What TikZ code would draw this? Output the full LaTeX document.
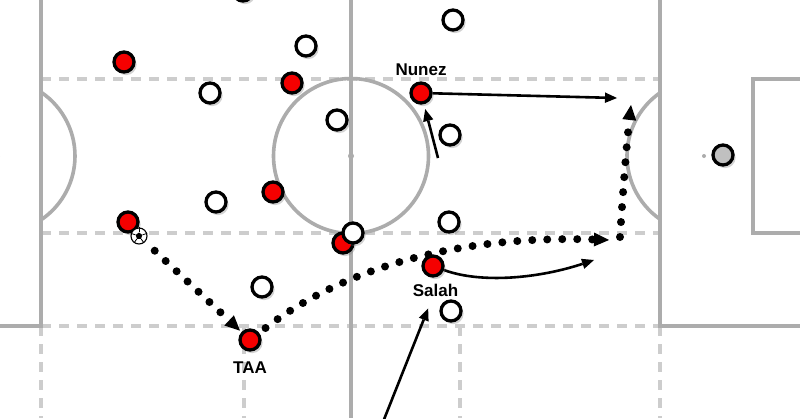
\documentclass[tikz,border=0pt]{standalone}
\usepackage{fontspec}
\setmainfont{Liberation Sans}
\usetikzlibrary{arrows.meta,shadows,shapes.geometric}
\pgfdeclarelayer{pitch}
\pgfdeclarelayer{paths}
\pgfsetlayers{pitch,paths,main}
\definecolor{pitchline}{RGB}{172,172,172}
\definecolor{dashline}{RGB}{205,205,205}
\definecolor{redp}{RGB}{245,0,0}
\definecolor{grayp}{RGB}{192,192,192}
\begin{document}
\begin{tikzpicture}[x=1pt,y=-1pt,
  pline/.style={draw=pitchline,line width=3.6pt},
  dline/.style={draw=dashline,line width=3.2pt,dash pattern=on 10pt off 8pt},
  player/.style={circle,draw=black,line width=3.3pt,minimum size=20pt,inner sep=0pt,
    drop shadow={shadow xshift=2pt,shadow yshift=-2.5pt,shadow scale=1.05,opacity=0.35}},
  redpl/.style={player,fill=redp},
  whitepl/.style={player,fill=white},
  keeperpl/.style={player,fill=grayp},
  lbl/.style={font=\bfseries\fontsize{17}{19}\selectfont,anchor=base,inner sep=0pt},
  run/.style={line width=2.6pt,-{Triangle[length=12pt,width=10.5pt,line width=0pt]}},
  dotline/.style={line width=8pt,line cap=round,dash pattern=on 0pt off 15pt,
    -{Triangle[length=15pt,width=14pt,line width=0pt]}}
]
\useasboundingbox (0,0) rectangle (800,418);
\begin{pgfonlayer}{pitch}
  \fill[white] (0,0) rectangle (800,418);
  % dashed guide lines
  \draw[dline] (41,79) -- (660,79);
  \draw[dline] (41,233) -- (660,233);
  \draw[dline] (41,326) -- (660,326);
  \draw[dline] (41,326) -- (41,418);
  \draw[dline] (244,326) -- (244,418);
  \draw[dline] (460,326) -- (460,418);
  \draw[dline] (660,326) -- (660,418);
  % pitch markings
  \draw[pline] (41,0) -- (41,326) -- (0,326);
  \draw[pline] (351,0) -- (351,418);
  \draw[pline] (660,0) -- (660,326) -- (800,326);
  \draw[pline] (800,79) -- (753,79) -- (753,233) -- (800,233);
  \draw[pline] (351,156) circle[radius=77.5];
  \fill[pitchline] (351,156) circle[radius=3];
  \draw[pline] (-2,156) ++(-56:77) arc[start angle=-56,end angle=56,radius=77];
  \draw[pline] (704,156) ++(125:77) arc[start angle=125,end angle=235,radius=77];
  \fill[pitchline] (704,156) circle[radius=2];
  \fill[pitchline] (-2,156) circle[radius=2];
\end{pgfonlayer}

% white players
\node[whitepl] (w0) at (243,-9) {};
\node[whitepl] (w1) at (306,46) {};
\node[whitepl] (w2) at (453,20) {};
\node[whitepl] (w3) at (210,93) {};
\node[whitepl] (w4) at (337,120) {};
\node[whitepl] (w5) at (450,135) {};
\node[whitepl] (w6) at (216,202) {};
\node[whitepl] (w7) at (449,222) {};
\node[whitepl] (w9) at (262,287) {};
\node[whitepl] (w10) at (451,311) {};
% red players
\node[redpl] (r1) at (124,62) {};
\node[redpl] (r2) at (292,83) {};
\node[redpl] (nunez) at (421,93) {};
\node[redpl] (r4) at (273,192) {};
\node[redpl] (r5) at (128,222) {};
\node[redpl] (r6) at (343,243) {};
\node[whitepl] (w8) at (353,233) {};
\node[redpl] (salah) at (433,266) {};
\node[redpl] (taa) at (250,340) {};
% keeper
\node[keeperpl] (gk) at (723,155) {};
% ball
\node[circle,draw=black,fill=white,line width=1.1pt,minimum size=16pt,inner sep=0pt] (ball) at (139,236) {};
\node[regular polygon,regular polygon sides=5,fill=black,minimum size=7pt,inner sep=0pt] (ballc) at (ball) {};
\foreach \i/\a in {1/90,2/162,3/234,4/306,5/18}
  \draw[line width=0.8pt] (ballc.corner \i) -- (ball.\a);

% labels
\node[lbl] (nunezlbl) at (421,75.5) {Nunez};
\node[lbl] (salahlbl) at (435.5,296) {Salah};
\node[lbl] (taalbl) at (250,373) {TAA};

\begin{pgfonlayer}{paths}
  \coordinate (nrun) at (617,98);
  \coordinate (nfrom) at (438,158);
  \coordinate (srun) at (594,260);
  \coordinate (bfrom) at (383,422);
  \coordinate (tend) at (609,240);
  \coordinate (vstart) at (620,237);
  \coordinate (vend) at (631,105);
  \draw[run] (nunez) -- (nrun);
  \draw[run,shorten >=5pt] (nfrom) -- (nunez);
  \draw[run] (salah) .. controls (482,284) and (540,278) .. (srun);
  \draw[run,shorten >=13pt] (bfrom) -- (salahlbl);
  \draw[dotline,shorten <=13pt,shorten >=2pt] (ball) -- (taa);
  \draw[dotline,shorten <=8pt] (taa) .. controls (320,286) and (425,234) .. (tend);
  \draw[dotline] (vstart) .. controls (623,190) and (627,140) .. (vend);
\end{pgfonlayer}
\end{tikzpicture}
\end{document}
